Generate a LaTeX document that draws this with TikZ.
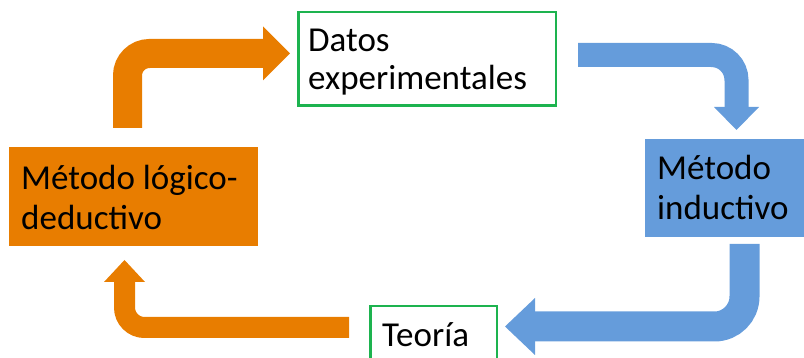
\documentclass[tikz,border=0pt]{standalone}
\usepackage{fontspec}
\setmainfont{Carlito}
\definecolor{orng}{HTML}{E87D00}
\definecolor{blu}{HTML}{659CDB}
\definecolor{grn}{HTML}{1DB34F}
\tikzset{
  fillbox/.style={draw=none, inner sep=0pt},
  linebox/.style={draw=grn, line width=2.5pt, fill=white, inner sep=0pt},
  txt/.style={inner sep=0pt, anchor=base west, font=\fontsize{35}{40}\selectfont},
}
\begin{document}
\begin{tikzpicture}[x=1pt,y=-1pt]
\useasboundingbox (0,0) rectangle (804,358);
% boxes
\fill[orng] (9,147) rectangle (258,246);
\node[fillbox, minimum width=249pt, minimum height=99pt] (logico) at (133.5,196.5) {};
\fill[blu] (645,139) rectangle (810,237);
\node[fillbox, minimum width=165pt, minimum height=98pt] (induct) at (727.5,188) {};
\node[linebox, minimum width=257.5pt, minimum height=93.5pt] (datos) at (427,59) {};
\node[linebox, minimum width=126.5pt, minimum height=80pt] (teoria) at (433.5,346) {};
% texts
\node[txt] (tlog) at (21,190) {\vtop{\hbox{Método lógico-}\hbox{deductivo}}};
\node[txt] (tind) at (657,180) {\vtop{\hbox{Método}\hbox{inductivo}}};
\node[txt, font=\fontsize{35}{38}\selectfont] (tdat) at (308,52) {\vtop{\hbox{Datos}\hbox{experimentales}}};
\node[txt] (tteo) at (382,347) {Teoría};
% connector coordinates
\coordinate (a1s) at (127.5,128);
\coordinate (a1e) at (263,53.5);
\coordinate (a2s) at (578,55);
\coordinate (a2e) at (736.5,107);
\coordinate (a3s) at (744.5,244);
\coordinate (a3e) at (535,326.5);
\coordinate (a4s) at (349,327.5);
\coordinate (a4e) at (124.5,282);
% orange top arrow: logico -> datos
\draw[orng, line width=29pt, rounded corners=22pt] (a1s) |- (a1e);
\fill[orng] (a1e) ++(0,-27) -- ++(27,27) -- ++(-27,27) -- cycle;
% blue top arrow: datos -> inductivo
\draw[blu, line width=24pt, rounded corners=25pt] (a2s) -| (a2e);
\fill[blu] (a2e) ++(-22.5,0) -- ++(45,0) -- ++(-22.5,23) -- cycle;
% blue bottom arrow: inductivo -> teoria
\draw[blu, line width=30pt, rounded corners=30pt] (a3s) |- (a3e);
\fill[blu] (a3e) ++(0,-28.5) -- ++(0,57) -- ++(-30,-28.5) -- cycle;
% orange bottom arrow: teoria -> logico
\draw[orng, line width=21pt, rounded corners=20pt] (a4s) -| (a4e);
\fill[orng] (a4e) ++(-20.5,0) -- ++(41,0) -- ++(-20.5,-22) -- cycle;
\end{tikzpicture}
\end{document}
